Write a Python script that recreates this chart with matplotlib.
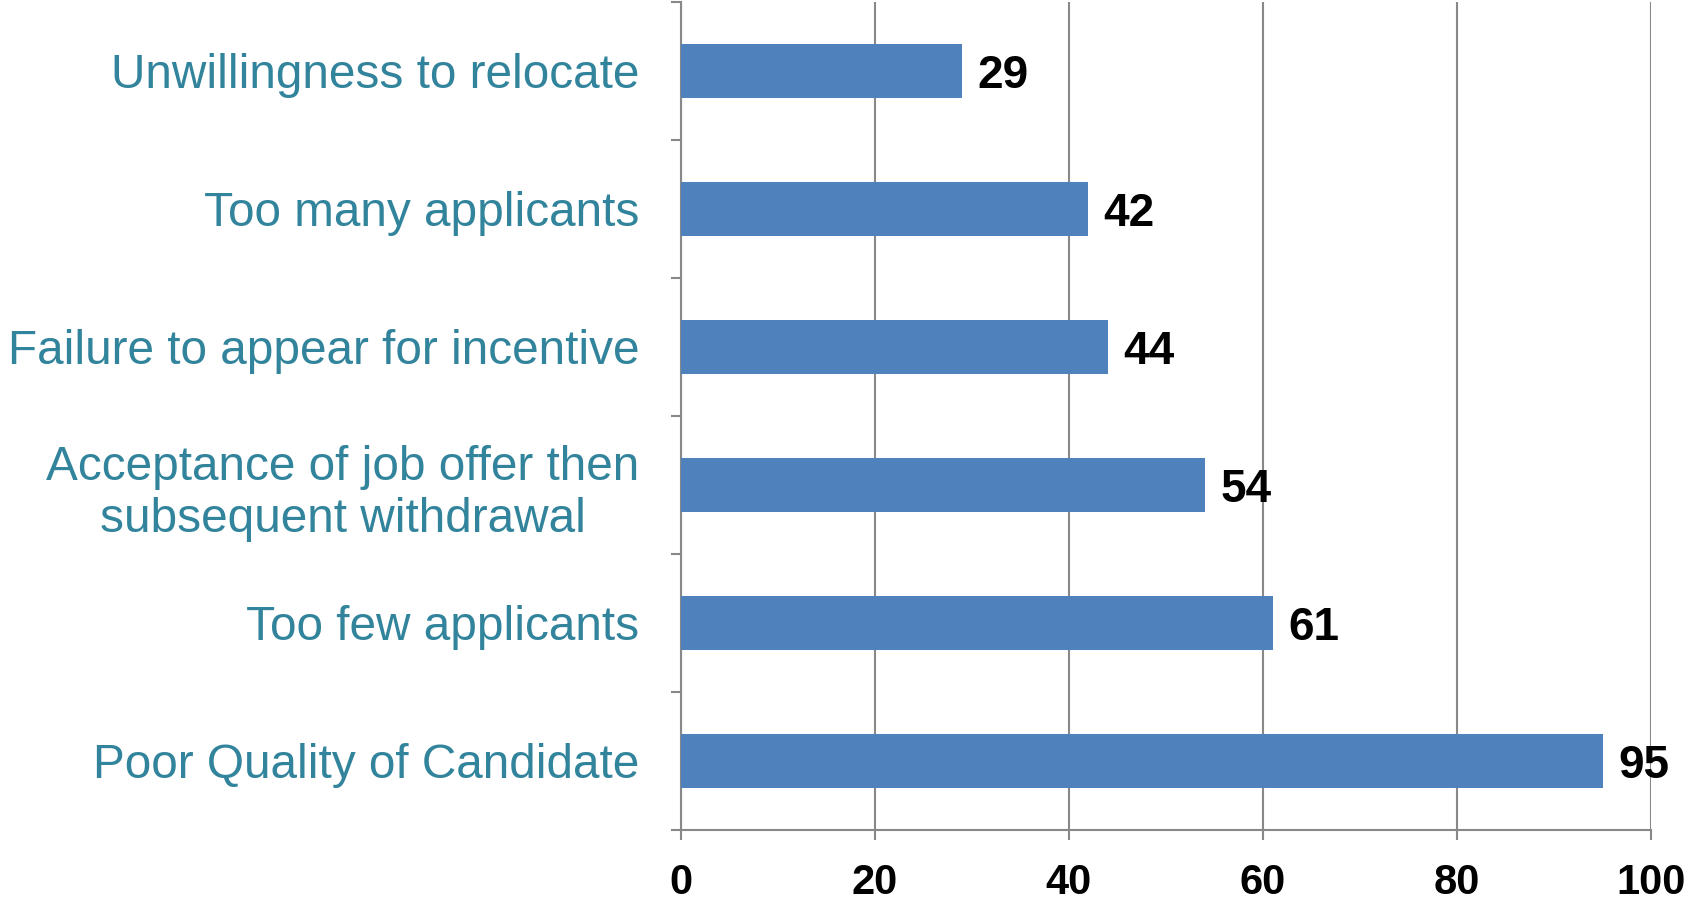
import numpy as np
import matplotlib.pyplot as plt

# categories, top to bottom as in the chart
labels = ["Unwillingness to relocate",
          "Too many applicants",
          "Failure to appear for incentive",
          "Acceptance of job offer then\nsubsequent withdrawal",
          "Too few applicants",
          "Poor Quality of Candidate"]
values = [29, 42, 44, 54, 61, 95]
xticks = [0, 20, 40, 60, 80, 100]

plt.rcParams['font.family'] = ['Liberation Sans', 'DejaVu Sans']

fig = plt.figure(figsize=(16.85, 9.08), dpi=100)
ax = fig.add_axes([0.404, 0.086, 0.576, 0.912])

pos = np.arange(len(labels))
bars = ax.barh(pos, values, height=0.39, color="#4F81BD", zorder=3)

for b, v in zip(bars, values):
    ax.annotate(str(v), (b.get_width(), b.get_y() + b.get_height() / 2),
                xytext=(11, 0), textcoords='offset points',
                ha='left', va='center_baseline', fontsize=33, fontweight='bold', color='black')

ax.set_ylim(len(labels) - 0.5, -0.5)
ax.set_xlim(0, 100)
ax.set_yticks(pos)
ax.set_yticklabels(labels, fontsize=34.4, color="#31849B", multialignment='center', linespacing=1.2)
ax.set_yticks(np.arange(-0.5, len(labels), 1.0), minor=True)
ax.tick_params(axis='y', which='major', length=0, pad=30)
ax.tick_params(axis='y', which='minor', length=7, width=1.5, color='#888888', direction='out')

ax.set_xticks(xticks)
ax.set_xticklabels([str(t) for t in xticks], fontsize=30, fontweight='bold')
ax.tick_params(axis='x', length=7, width=1.5, color='#888888', direction='out', pad=17)

ax.grid(axis='x', color='#888888', linewidth=1.5, zorder=0)
for s in ['top', 'right']:
    ax.spines[s].set_visible(False)
for s in ['left', 'bottom']:
    ax.spines[s].set_color('#888888')
    ax.spines[s].set_linewidth(1.5)

plt.savefig('out.png', dpi=100)
